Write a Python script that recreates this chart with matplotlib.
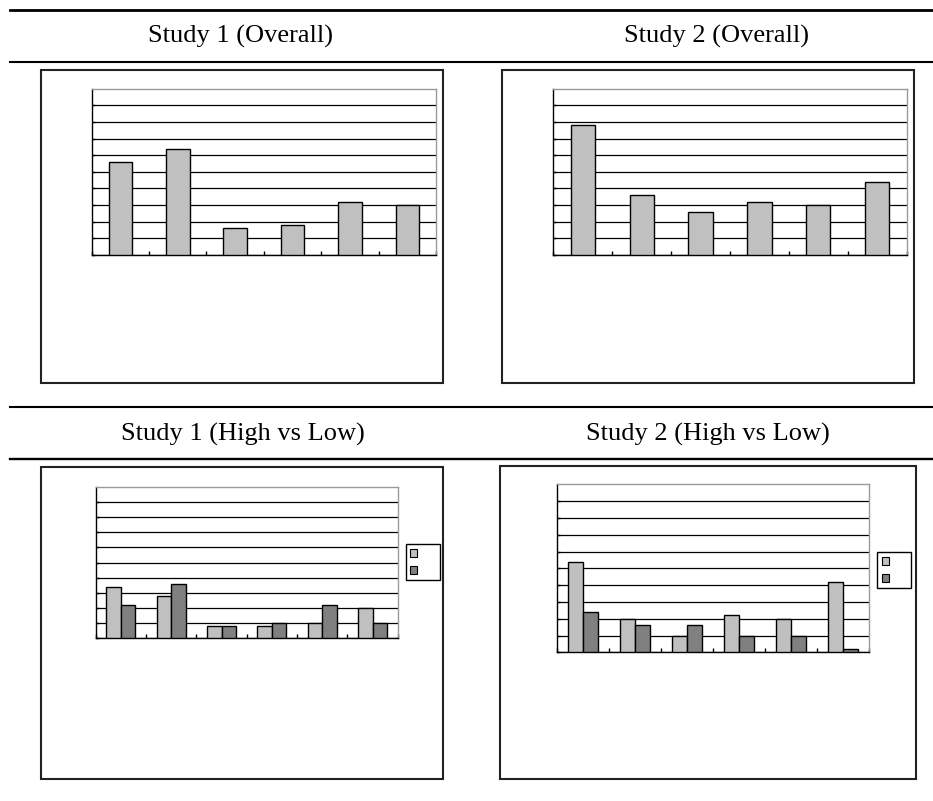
import numpy as np
import matplotlib.pyplot as plt
from matplotlib.lines import Line2D
from matplotlib.patches import Rectangle, Patch

W, H = 933, 801

# bar heights, in grid units (0-10)
study1_overall = [5.6, 6.4, 1.6, 1.8, 3.2, 3.0]
study2_overall = [7.8, 3.6, 2.6, 3.2, 3.0, 4.4]
study1_high = [3.4, 2.8, 0.8, 0.8, 1.0, 2.0]
study1_low = [2.2, 3.6, 0.8, 1.0, 2.2, 1.0]
study2_high = [5.4, 2.0, 1.0, 2.2, 2.0, 4.2]
study2_low = [2.4, 1.6, 1.6, 1.0, 1.0, 0.2]

titles = ["Study 1 (Overall)", "Study 2 (Overall)",
          "Study 1 (High vs Low)", "Study 2 (High vs Low)"]

light = "#c0c0c0"
dark = "#808080"

fig = plt.figure(figsize=(W / 100, H / 100), dpi=100)


def fx(x):
    return x / W


def fy(y):
    return 1 - y / H


def px_axes(x0, y0, x1, y1):
    return fig.add_axes([fx(x0), fy(y1), fx(x1) - fx(x0), fy(y0) - fy(y1)])


def rule(y, lw):
    fig.add_artist(Line2D([fx(10), 1.0], [fy(y), fy(y)], color="black", lw=lw))


def frame(x0, y0, x1, y1):
    fig.add_artist(Rectangle((fx(x0), fy(y1)), fx(x1) - fx(x0), fy(y0) - fy(y1),
                             transform=fig.transFigure, fill=False,
                             ec="#222222", lw=1.5))


def style(ax):
    ax.set_xlim(0, 6)
    ax.set_ylim(0, 10)
    ax.set_yticks(range(0, 10))
    ax.set_xticks(range(0, 7))
    ax.set_xticklabels([])
    ax.set_yticklabels([])
    ax.tick_params(axis="x", direction="in", length=3, width=1, color="black")
    ax.tick_params(axis="y", direction="in", length=2, width=1, color="black")
    ax.yaxis.grid(True, color="black", lw=0.9)
    ax.set_axisbelow(True)
    for s in ["left", "bottom"]:
        ax.spines[s].set_color("black")
        ax.spines[s].set_linewidth(1.0)
    for s in ["top", "right"]:
        ax.spines[s].set_color("#9a9a9a")
        ax.spines[s].set_linewidth(1.0)


def single(ax, vals):
    x = np.arange(len(vals)) + 0.5
    ax.bar(x, vals, width=0.41, color=light, edgecolor="black", lw=1.0, zorder=3)
    style(ax)


def paired(ax, high, low, legend_xy):
    x = np.arange(len(high)) + 0.5
    w = 0.29
    ax.bar(x - w / 2, high, width=w, color=light, edgecolor="black", lw=1.0, zorder=3)
    ax.bar(x + w / 2, low, width=w, color=dark, edgecolor="black", lw=1.0, zorder=3)
    style(ax)
    handles = [Patch(fc=light, ec="black", lw=0.8), Patch(fc=dark, ec="black", lw=0.8)]
    leg = ax.legend(handles, ["", ""], loc="upper left",
                    bbox_to_anchor=(fx(legend_xy[0]), fy(legend_xy[1])),
                    bbox_transform=fig.transFigure, borderaxespad=0,
                    fontsize=7, handlelength=0.72, handleheight=0.85,
                    handletextpad=1.87, borderpad=0.45, labelspacing=0.72,
                    fancybox=False, framealpha=1)
    leg.get_frame().set_edgecolor("black")
    leg.get_frame().set_linewidth(1.0)


# horizontal table rules
rule(9.5, 2.0)
rule(62, 1.5)
rule(407, 1.5)
rule(459, 1.7)

# panel titles
fig.text(fx(241), fy(43), titles[0], ha="center", va="baseline",
         family="Liberation Serif", fontsize=19)
fig.text(fx(716), fy(43), titles[1], ha="center", va="baseline",
         family="Liberation Serif", fontsize=19)
fig.text(fx(243), fy(441), titles[2], ha="center", va="baseline",
         family="Liberation Serif", fontsize=19)
fig.text(fx(708), fy(441), titles[3], ha="center", va="baseline",
         family="Liberation Serif", fontsize=19)

# outer frames of the four charts
frame(40.5, 69.5, 443, 383)
frame(501.5, 69.5, 914, 383)
frame(41, 467, 443, 779)
frame(500, 466, 915.5, 779)

ax1 = px_axes(91.7, 88.7, 436, 255)
single(ax1, study1_overall)

ax2 = px_axes(553.3, 88.7, 906.7, 255)
single(ax2, study2_overall)

ax3 = px_axes(95.7, 486.7, 397.7, 638.3)
paired(ax3, study1_high, study1_low, (405.7, 544.3))

ax4 = px_axes(556.7, 484.3, 869, 652.3)
paired(ax4, study2_high, study2_low, (877.3, 552))

fig.savefig("out.png", dpi=100)
